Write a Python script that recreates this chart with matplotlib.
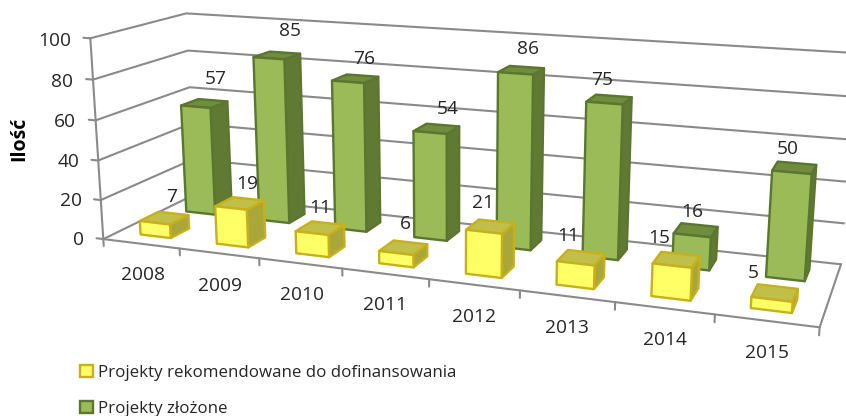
import numpy as np
import matplotlib
matplotlib.use("Agg")
import matplotlib.pyplot as plt
from matplotlib.patches import Patch

years = ["2008", "2009", "2010", "2011", "2012", "2013", "2014", "2015"]
recommended = [7, 19, 11, 6, 21, 11, 15, 5]
submitted = [57, 85, 76, 54, 86, 75, 16, 50]
y_ticks = [0, 20, 40, 60, 80, 100]
series_names = ["Projekty rekomendowane do dofinansowania", "Projekty złożone"]
y_title = "Ilość"

W, H = 846, 416
FONT = "Open Sans"
TXT = "#262626"
GRID = "#8a8a8a"

# camera calibration: (category, depth, value) -> picture pixel
calib = [
    (0,0,0,105,238),(1,0,0,181,248),(2,0,0,260,258),(3,0,0,342,268),(4,0,0,429,279),
    (5,0,0,519,291),(6,0,0,615,303),(7,0,0,715,315),(8,0,0,820,328),
    (0,0,20,100,200),(0,0,40,97.5,160),(0,0,60,95,120),(0,0,80,92.5,80),(0,0,100,90,39),
    (0,1,100,187,13),(0,1,80,188.5,50),(0,1,60,190,87),(0,1,0,193,197),
    (8,1,0,841,263),(8,1,20,844,223),(8,1,40,847,181),(8,1,60,850,139),(8,1,80,853,97),(8,1,100,856,54),
]
rows = []
rhs = []
for X, Y, Z, u, v in calib:
    rows.append([X, Y, Z, 1, 0, 0, 0, 0, -u*X, -u*Y, -u*Z]); rhs.append(u)
    rows.append([0, 0, 0, 0, X, Y, Z, 1, -v*X, -v*Y, -v*Z]); rhs.append(v)
sol = np.linalg.lstsq(np.array(rows, float), np.array(rhs, float), rcond=None)[0]
P = np.append(sol, 1).reshape(3, 4)

fig = plt.figure(figsize=(W/100, H/100), dpi=100, facecolor="white")
ax = fig.add_axes([0, -(W-H)/2/H, 1, W/H], projection="3d", proj_type="ortho", computed_zorder=False)
ax.set_axis_off()
ax.patch.set_visible(False)

def custom_proj():
    inv = ax.transData.inverted().get_matrix()
    flip = np.array([[1, 0, 0], [0, -1, H], [0, 0, 1]], float)
    Q = inv @ flip @ P
    return np.array([Q[0], Q[1], [-0.02, 1, -0.001, 0.0], Q[2]])
ax.get_proj = custom_proj

line_kw = dict(color=GRID, lw=1.5, solid_capstyle="round", zorder=1)
for z in y_ticks:
    ax.plot([0, 0, 8], [0, 1, 1], [z, z, z], **line_kw)
    ax.plot([-0.09, 0], [0, 0], [z, z], **line_kw)
ax.plot([0, 0], [0, 0], [0, 100], **line_kw)
ax.plot([0, 8, 8], [0, 0, 1], [0, 0, 0], **line_kw)
for k in range(9):
    ax.plot([k, k], [0, 0], [0, -3.5], **line_kw)

NONE = (0, 0, 0, 0)
BAR_X, BAR_W, BAR_D = 0.30, 0.40, 0.20
def bars(values, y0, front, top, side, edge, zo):
    for k in range(len(values)):
        faces = [NONE, top, front, NONE, NONE, side]
        edges = [NONE, edge, edge, NONE, NONE, edge]
        ax.bar3d([k + BAR_X], [y0], [0], BAR_W, BAR_D, values[k], color=faces,
                 edgecolor=edges, linewidth=1.7, shade=False, zorder=zo + k * 0.01)

bars(submitted, 0.65, "#9bbb59", "#6f8d3d", "#617a33", "#5a762f", 2)
bars(recommended, 0.15, "#ffff66", "#c0bf4a", "#a9a63a", "#c8b01c", 3)

px = lambda x, y: (x / W, 1 - y / H)
FS = 13.8

y_label_pos = [(84, 240), (82, 201), (79, 162), (76, 122), (73, 82), (71, 41)]
for t, (x, y) in zip(y_ticks, y_label_pos):
    fig.text(*px(x, y), str(t), ha="right", va="center", family=FONT, fontsize=FS, color=TXT)

x_label_pos = [(143, 275), (220, 286), (302, 295), (385, 305), (474, 317), (567, 328), (665, 340), (767, 353)]
for t, (x, y) in zip(years, x_label_pos):
    fig.text(*px(x, y), t, ha="center", va="center", family=FONT, fontsize=FS, color=TXT)

sub_pos = [(216, 79), (290, 31), (364, 59), (448, 109), (528, 49), (602, 80), (692, 212), (788, 149)]
rec_pos = [(172, 197), (247, 184), (320, 208), (405, 224), (483, 203), (568, 236), (659, 238), (753, 273)]
for vals, pos in ((submitted, sub_pos), (recommended, rec_pos)):
    for v, (x, y) in zip(vals, pos):
        fig.text(*px(x, y), str(v), ha="center", va="center", family=FONT, fontsize=FS, color=TXT)

fig.text(*px(19, 139), y_title, rotation=90, ha="center", va="center", family=FONT,
         fontweight="bold", fontsize=14, color="black")

handles = [Patch(facecolor="#ffff66", edgecolor="#c8b01c", linewidth=1.7),
           Patch(facecolor="#9bbb59", edgecolor="#5a762f", linewidth=1.7)]
fig.legend(handles, series_names, loc="upper left", bbox_to_anchor=px(80, 365), borderpad=0,
           borderaxespad=0, frameon=False, handlelength=0.75, handleheight=0.75, handletextpad=0.3,
           labelspacing=1.15, prop={"family": FONT, "size": 12.2}, labelcolor=TXT)

fig.savefig("out.png", dpi=100, facecolor="white")
